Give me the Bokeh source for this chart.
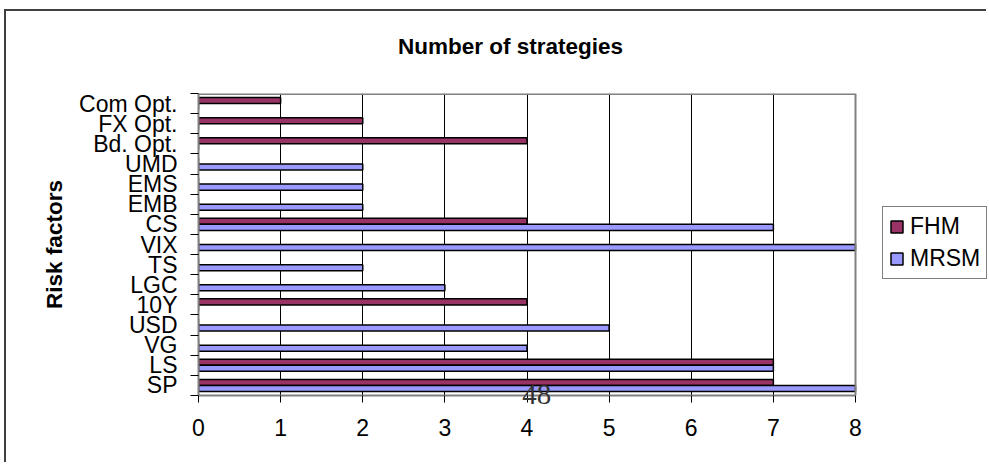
from bokeh.plotting import figure
from bokeh.models import (ColumnDataSource, FixedTicker, Legend, LegendItem,
                          LinearAxis, Range1d, Span)
from bokeh.embed import file_html
from bokeh.resources import INLINE

# Data (bottom-to-top order as drawn)
categories = ["SP", "LS", "VG", "USD", "10Y", "LGC", "TS", "VIX", "CS",
              "EMB", "EMS", "UMD", "Bd. Opt.", "FX Opt.", "Com Opt."]
fhm = [7, 7, 0, 0, 4, 0, 0, 0, 4, 0, 0, 0, 4, 2, 1]
mrsm = [8, 7, 4, 5, 0, 3, 2, 8, 7, 2, 2, 2, 0, 0, 0]
x_ticks = [0, 1, 2, 3, 4, 5, 6, 7, 8]
series_names = ["FHM", "MRSM"]
series_colors = ["#993366", "#9999FF"]
title_text = "Number of strategies"
y_title = "Risk factors"
page_number = "48"
page_number_x = 4.12
title_x = 3.8

FONT = "Liberation Sans"
n = len(categories)
centers = [i + 0.5 for i in range(n)]
bounds = [i for i in range(n + 1)]
bar_h = 0.3
x_min, x_max = x_ticks[0], x_ticks[-1]

# plot area occupies 657 px for the 0..8 scale; frame extended to the right for the legend
W, H = 982, 453
LEFT, TOP, BOTTOM = 192, 82, 69
plot_px = 657
frame_px = W - LEFT
x_end = x_min + (x_max - x_min) * frame_px / plot_px

p = figure(width=W, height=H, output_backend="svg", toolbar_location=None,
           x_range=Range1d(x_min, x_end), y_range=Range1d(0, n),
           x_axis_location=None,
           min_border_left=LEFT, min_border_right=0, min_border_top=TOP,
           min_border_bottom=BOTTOM)

# chart title, drawn as a label-only axis above the plot area
ax_t = LinearAxis(ticker=FixedTicker(ticks=[title_x]),
                  major_label_overrides={title_x: title_text})
ax_t.major_label_text_font = FONT
ax_t.major_label_text_font_size = "22.5px"
ax_t.major_label_text_font_style = "bold"
ax_t.major_label_text_color = "black"
ax_t.axis_line_color = None
ax_t.major_tick_line_color = None
ax_t.minor_tick_line_color = None
ax_t.major_tick_out = 0
ax_t.minor_tick_out = 0
ax_t.major_label_standoff = 35
p.add_layout(ax_t, "above")

# grid (inside the plot area only)
p.xgrid.ticker = FixedTicker(ticks=x_ticks[1:-1])
p.xgrid.grid_line_color = "black"
p.xgrid.grid_line_width = 1
p.ygrid.grid_line_color = None

# plot-area border: right edge and top edge
p.add_layout(Span(location=x_max, dimension="height", line_color="#808080", line_width=2))
p.line(x=[x_min, x_max], y=[n, n], line_color="#808080", line_width=3)

src_f = ColumnDataSource(dict(y=[c + bar_h / 2 for c in centers], right=fhm))
src_m = ColumnDataSource(dict(y=[c - bar_h / 2 for c in centers], right=mrsm))
r_f = p.hbar(y="y", left=0, right="right", height=bar_h, source=src_f,
             fill_color=series_colors[0], line_color="black", line_width=1.5)
r_m = p.hbar(y="y", left=0, right="right", height=bar_h, source=src_m,
             fill_color=series_colors[1], line_color="black", line_width=1.5)

# x axis: first (next to the frame) carries axis line, tick marks and the page number
ax1 = LinearAxis(ticker=FixedTicker(ticks=[page_number_x], minor_ticks=x_ticks),
                 major_label_overrides={page_number_x: page_number},
                 bounds=(x_min, x_max))
ax1.major_label_text_font = "Liberation Serif"
ax1.major_label_text_font_size = "29px"
ax1.major_label_text_color = "#333333"
ax1.major_tick_out = 0
ax1.major_tick_in = 0
ax1.minor_tick_out = 7
ax1.minor_tick_in = 0
ax1.minor_tick_line_color = "black"
ax1.axis_line_color = "#808080"
ax1.axis_line_width = 2
ax1.major_label_standoff = -18
p.add_layout(ax1, "below")

# second x axis: the numeric tick labels
ax2 = LinearAxis(ticker=FixedTicker(ticks=x_ticks))
ax2.major_label_text_font = FONT
ax2.major_label_text_font_size = "23px"
ax2.major_label_text_color = "black"
ax2.major_tick_line_color = None
ax2.minor_tick_line_color = None
ax2.axis_line_color = None
ax2.major_tick_out = 0
ax2.minor_tick_out = 0
ax2.major_label_standoff = 12
p.add_layout(ax2, "below")

# y axis
p.yaxis.ticker = FixedTicker(ticks=centers, minor_ticks=bounds)
p.yaxis.major_label_overrides = {c: name for c, name in zip(centers, categories)}
p.yaxis.major_label_text_font = FONT
p.yaxis.major_label_text_font_size = "23px"
p.yaxis.major_label_text_color = "black"
p.yaxis.major_tick_out = 0
p.yaxis.major_tick_in = 0
p.yaxis.minor_tick_out = 8
p.yaxis.minor_tick_in = 0
p.yaxis.minor_tick_line_color = "black"
p.yaxis.minor_tick_line_width = 1
p.yaxis.major_label_standoff = 13
p.yaxis.axis_line_color = "#808080"
p.yaxis.axis_line_width = 2
p.yaxis.axis_label = y_title
p.yaxis.axis_label_text_font = FONT
p.yaxis.axis_label_text_font_size = "22.5px"
p.yaxis.axis_label_text_font_style = "bold"
p.yaxis.axis_label_text_color = "black"
p.yaxis.axis_label_standoff = 9

p.outline_line_color = None
p.background_fill_color = "white"
p.border_fill_color = "white"

legend = Legend(items=[LegendItem(label=series_names[0], renderers=[r_f]),
                       LegendItem(label=series_names[1], renderers=[r_m])],
                location=(684, 116), orientation="vertical")
legend.label_text_font = FONT
legend.label_text_font_size = "23px"
legend.label_text_color = "black"
legend.glyph_width = 15
legend.glyph_height = 15
legend.label_height = 26
legend.label_standoff = 6
legend.spacing = 5
legend.padding = 6
legend.margin = 0
legend.border_line_color = "black"
legend.border_line_width = 1
legend.background_fill_color = "white"
p.add_layout(legend, "center")

p.styles = {"margin-left": "4px", "margin-top": "9px",
            "border-left": "2px solid #404040", "border-top": "2px solid #404040"}

open("out.html", "w").write(file_html(p, INLINE))
